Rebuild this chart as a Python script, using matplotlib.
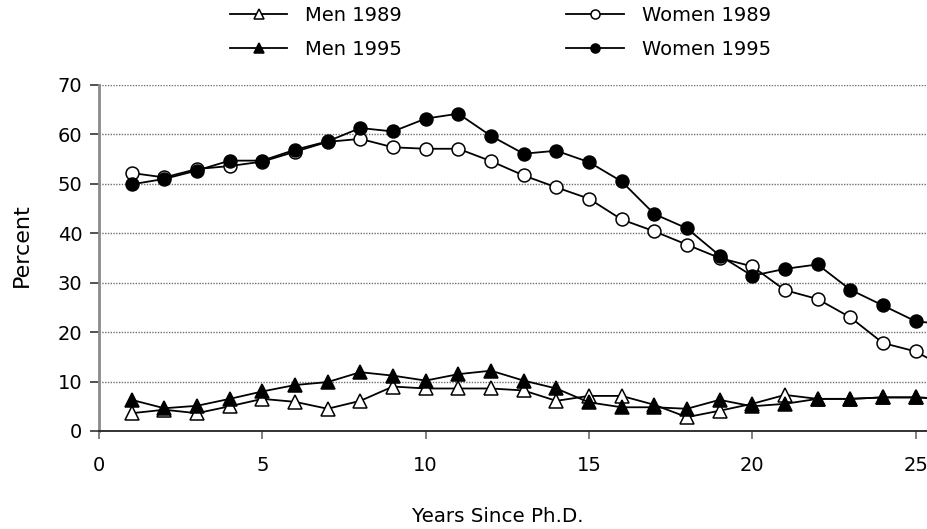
"""Share of Ph.D. holders by years since degree, men vs women, 1989 and 1995."""

import matplotlib
matplotlib.use("Agg")
import matplotlib.pyplot as plt

plt.rcParams["font.family"] = ["DejaVu Sans"]

# ---------------------------------------------------------------------------
# Data
# ---------------------------------------------------------------------------
years = list(range(1, 27))

men_1989 = [3.6, 4.3, 3.6, 5.0, 6.5, 5.9, 4.5, 6.1, 9.0, 8.6,
            8.6, 8.6, 8.2, 6.1, 7.1, 7.1, 5.3, 2.8, 4.1, 5.5,
            7.3, 6.5, 6.5, 6.8, 6.8, 6.5]
men_1995 = [6.3, 4.6, 5.1, 6.5, 8.0, 9.3, 9.9, 11.9, 11.2, 10.2,
            11.5, 12.2, 10.2, 8.6, 5.8, 4.8, 4.8, 4.5, 6.3, 5.0,
            5.5, 6.5, 6.5, 6.8, 6.8, 6.5]
women_1989 = [52.2, 51.3, 53.0, 53.6, 54.5, 56.5, 58.5, 59.1, 57.4, 57.1,
              57.1, 54.6, 51.7, 49.3, 47.0, 42.8, 40.4, 37.7, 35.0, 33.3,
              28.5, 26.7, 23.0, 17.8, 16.1, 12.5]
women_1995 = [49.9, 51.0, 52.7, 54.7, 54.7, 56.9, 58.6, 61.3, 60.6, 63.2,
              64.2, 59.7, 56.1, 56.7, 54.4, 50.5, 43.9, 41.0, 35.5, 31.4,
              32.8, 33.7, 28.6, 25.4, 22.2, 21.5]

series = [
    ("Men 1989",   men_1989,   "^", "white"),
    ("Women 1989", women_1989, "o", "white"),
    ("Men 1995",   men_1995,   "^", "black"),
    ("Women 1995", women_1995, "o", "black"),
]

FS = 14

# ---------------------------------------------------------------------------
# Figure
# ---------------------------------------------------------------------------
fig = plt.figure(figsize=(9.27, 5.29), dpi=100)
ax = fig.add_axes([99 / 927, 98 / 529, 828 / 927, 346 / 529])

handles = {}
for name, vals, mk, face in series:
    ms = 10 if mk == "^" else 9.3
    (ln,) = ax.plot(years, vals, color="black", lw=1.3, marker=mk,
                    markersize=ms, markerfacecolor=face,
                    markeredgecolor="black", markeredgewidth=1.1,
                    label=name)
    handles[name] = ln

ax.set_xlim(0, 25.35)
ax.set_ylim(0, 70)
ax.set_xticks([0, 5, 10, 15, 20, 25])
ax.set_yticks(range(0, 71, 10))

# dotted horizontal gridlines
for y in range(10, 71, 10):
    ax.axhline(y, color="#707070", lw=1.0, ls=(0, (1, 1)), zorder=0)

for side in ("top", "right"):
    ax.spines[side].set_visible(False)
ax.spines["left"].set_color("#8a8a8a")
ax.spines["left"].set_linewidth(2.0)
ax.spines["bottom"].set_color("#222222")
ax.spines["bottom"].set_linewidth(1.3)

ax.tick_params(axis="y", direction="out", length=6.5, width=1.3,
               color="#444444", pad=5.5, labelsize=FS)
ax.tick_params(axis="x", direction="out", length=6, width=1.3,
               color="#777777", pad=12, labelsize=FS)

fig.text(22 / 927, 1 - 245 / 529, "Percent", rotation=90,
         ha="center", va="center", fontsize=16)
fig.text(498 / 927, 1 - 516 / 529, "Years Since Ph.D.",
         ha="center", va="center", fontsize=14.3)

order = ["Men 1989", "Men 1995", "Women 1989", "Women 1995"]
fig.legend([handles[n] for n in order], order, ncol=2,
           loc="upper left", bbox_to_anchor=(230 / 927, 1 - 6 / 529),
           frameon=False, fontsize=FS, markerscale=0.7,
           handlelength=2.94, handletextpad=0.93, columnspacing=8.45,
           labelspacing=0.75, borderpad=0, borderaxespad=0)

fig.savefig("out.png", dpi=100)
plt.close(fig)
